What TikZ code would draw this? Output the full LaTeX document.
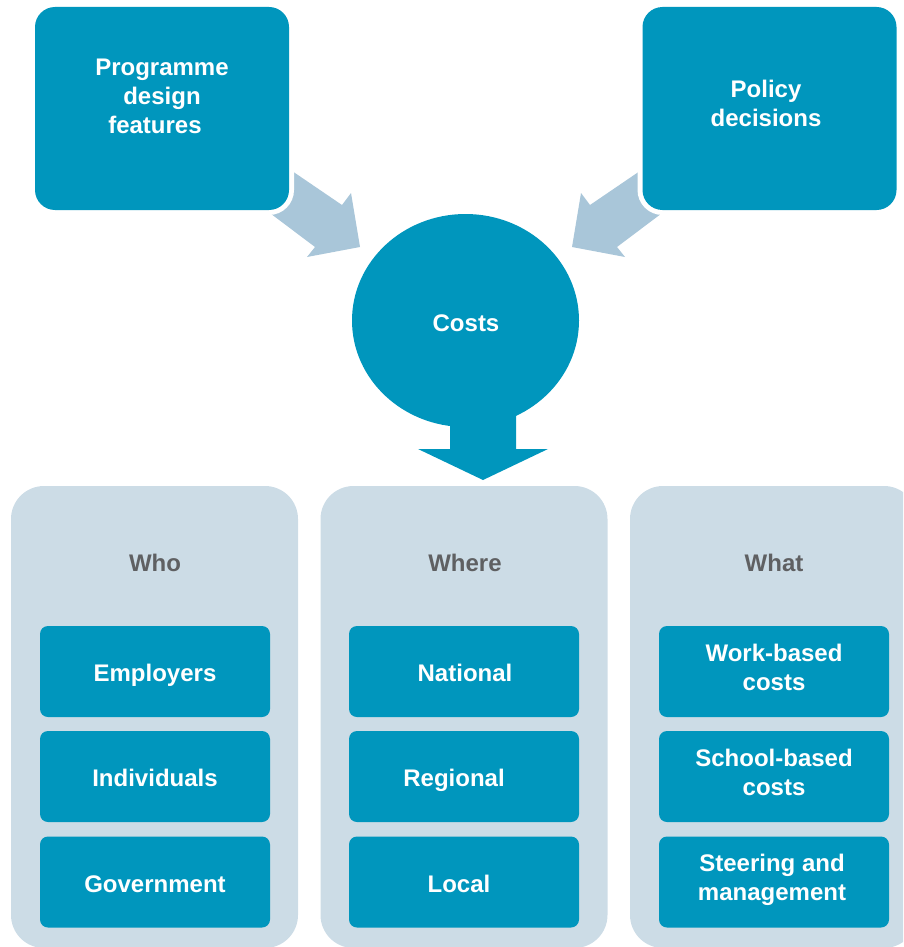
\documentclass[tikz,border=0pt]{standalone}
\usepackage{fontspec}
\setmainfont{Liberation Sans}
\usetikzlibrary{shapes.geometric}
\definecolor{tealc}{HTML}{0096BD}
\definecolor{arrowc}{HTML}{A9C6D9}
\definecolor{panelc}{HTML}{CCDCE6}
\definecolor{greyc}{HTML}{5F6062}
\tikzset{
  topbox/.style={fill=tealc, rounded corners=20pt, minimum width=254pt, minimum height=203pt, inner sep=0pt},
  topborder/.style={fill=white, rounded corners=25pt, minimum width=264pt, minimum height=213pt, inner sep=0pt},
  panelbox/.style={fill=panelc, rounded corners=33pt, minimum width=287pt, minimum height=462pt, inner sep=0pt},
  itembox/.style={fill=tealc, rounded corners=8pt, minimum width=230pt, minimum height=91pt, inner sep=0pt},
  wtext/.style={text=white, font=\bfseries\fontsize{24}{29}\selectfont, align=center, inner sep=0pt, text height=17pt, text depth=0pt},
  gtext/.style={text=greyc, font=\bfseries\fontsize{24}{29}\selectfont, align=center, inner sep=0pt, text height=17pt, text depth=0pt},
  bigarrow/.style={fill=arrowc},
}
\begin{document}
\begin{tikzpicture}[x=1pt,y=-1pt]
\useasboundingbox (0,0) rectangle (903,947);
\clip (0,0) rectangle (903,947);
% diagonal arrows (behind the top boxes)
\coordinate (la1) at (248,141); \coordinate (la2) at (342,205); \coordinate (la3) at (351,193);
\coordinate (la4) at (360,247); \coordinate (la5) at (307,257); \coordinate (la6) at (315,247);
\coordinate (la7) at (230,183);
\fill[bigarrow] (la1) -- (la2) -- (la3) -- (la4) -- (la5) -- (la6) -- (la7) -- cycle;
\coordinate (ra1) at (684,141); \coordinate (ra2) at (590,205); \coordinate (ra3) at (581,193);
\coordinate (ra4) at (572,247); \coordinate (ra5) at (625,257); \coordinate (ra6) at (617,247);
\coordinate (ra7) at (702,183);
\fill[bigarrow] (ra1) -- (ra2) -- (ra3) -- (ra4) -- (ra5) -- (ra6) -- (ra7) -- cycle;
% top boxes
\node[topborder] (progw) at (162,108.5) {};
\node[topbox] (prog) at (162,108.5) {};
\node[wtext] (progt) at (162,124.8) {Programme\\design\\features\hspace*{14pt}};
\node[topborder] (polw) at (769.5,108.5) {};
\node[topbox] (pol) at (769.5,108.5) {};
\node[wtext] (polt) at (766,118.2) {Policy\\decisions};
% costs circle and down arrow
\node[fill=tealc, ellipse, minimum width=227pt, minimum height=213pt, inner sep=0pt] (costs) at (465.5,320.5) {};
\fill[tealc] (450,400) -- (450,449) -- (418,449) -- (483,480) -- (548,449) -- (516,449) -- (516,400) -- cycle;
\node[wtext] (costst) at (466,323.4) {Costs};
% panels
\node[panelbox] (p1) at (154.5,717) {};
\node[panelbox] (p2) at (464,717) {};
\node[panelbox] (p3) at (773.5,717) {};
\node[gtext] (who) at (155,563) {Who};
\node[gtext] (where) at (465,563) {Where};
\node[gtext] (what) at (774,563) {What};
% items
\node[itembox] (b11) at (155,671.5) {};
\node[itembox] (b12) at (155,776.5) {};
\node[itembox] (b13) at (155,882) {};
\node[itembox] (b21) at (464,671.5) {};
\node[itembox] (b22) at (464,776.5) {};
\node[itembox] (b23) at (464,882) {};
\node[itembox] (b31) at (774,671.5) {};
\node[itembox] (b32) at (774,776.5) {};
\node[itembox] (b33) at (774,882) {};
\node[wtext] (t11) at (155,673.4) {Employers};
\node[wtext] (t12) at (155,778.4) {Individuals};
\node[wtext] (t13) at (155,883.9) {Government};
\node[wtext] (t21) at (465,673.4) {National};
\node[wtext] (t22) at (454,778.4) {Regional};
\node[wtext] (t23) at (459,883.9) {Local};
\node[wtext] (t31) at (774,681.5) {Work-based\\costs};
\node[wtext] (t32) at (774,786.5) {School-based\\costs};
\node[wtext] (t33) at (772,891.5) {Steering and\\management};
\end{tikzpicture}
\end{document}
